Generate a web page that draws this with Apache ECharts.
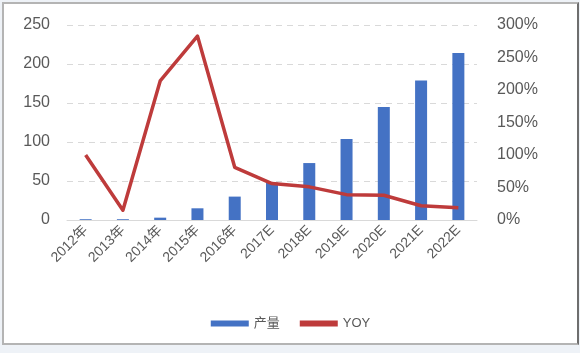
<html>
<head>
<meta charset="utf-8">
<script src="https://cdn.jsdelivr.net/npm/echarts@6/dist/echarts.min.js"></script>
<style>
    body { margin: 0; background: #eef2f7; }
    #frame {
        position: absolute; left: 2px; top: 2px; width: 573px; height: 339px;
        background: #fff; border: 2px solid #b4b4b4; border-right-color: #6e6e6e;
    }
    #main { width: 573px; height: 339px; }
</style>
</head>
<body>
<div id="frame"><div id="main"></div></div>
<script>
    var years = ['2012年', '2013年', '2014年', '2015年', '2016年', '2017E', '2018E', '2019E', '2020E', '2021E', '2022E'];
    var output = [1, 1, 3, 15, 30, 48, 73, 104, 145, 179, 214];
    var yoy = [100, 15, 214, 283, 81, 56, 51, 39, 38, 22, 19];

    var chart = echarts.init(document.getElementById('main'));
    var font = 'Liberation Sans, Noto Sans CJK SC, sans-serif';

    chart.setOption({
        animation: false,
        grid: { left: 63, right: 100, top: 21, bottom: 123 },
        legend: {
            bottom: 8,
            left: 'center',
            itemGap: 20,
            itemWidth: 38,
            itemHeight: 6,
            textStyle: { color: '#595959', fontSize: 13, fontFamily: font },
            data: [
                { name: '产量', icon: 'rect', itemStyle: { color: '#4472C4' } },
                { name: 'YOY', icon: 'rect', itemStyle: { color: '#BE3B3B' } }
            ]
        },
        xAxis: {
            type: 'category',
            data: years,
            axisLine: { lineStyle: { color: '#d9d9d9' } },
            axisTick: { show: false },
            axisLabel: { rotate: 45, color: '#595959', fontSize: 14, fontFamily: font, margin: 8 }
        },
        yAxis: [{
            type: 'value',
            min: 0, max: 250, interval: 50,
            axisLabel: { color: '#595959', fontSize: 16, fontFamily: font, margin: 17 },
            splitLine: { lineStyle: { color: '#d9d9d9', type: [6, 5] } }
        }, {
            type: 'value',
            min: 0, max: 300, interval: 50,
            axisLabel: { color: '#595959', fontSize: 16, fontFamily: font, formatter: '{value}%', margin: 20 },
            splitLine: { show: false }
        }],
        series: [{
            name: '产量',
            type: 'bar',
            data: output,
            barWidth: 12,
            itemStyle: { color: '#4472C4' }
        }, {
            name: 'YOY',
            type: 'line',
            yAxisIndex: 1,
            data: yoy,
            symbol: 'none',
            lineStyle: { color: '#BE3B3B', width: 3.5, join: 'round' },
            itemStyle: { color: '#BE3B3B' }
        }]
    });
</script>
</body>
</html>
